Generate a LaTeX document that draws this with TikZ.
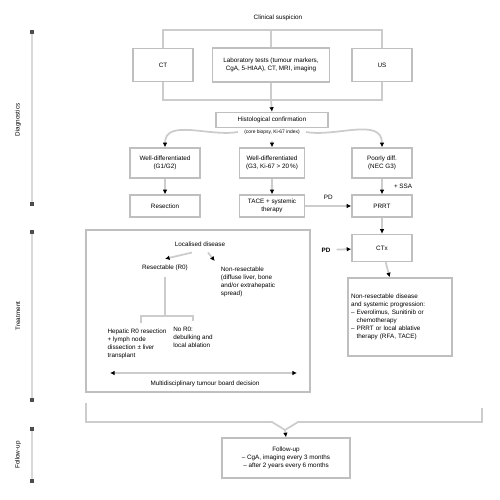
\documentclass[tikz,border=0pt]{standalone}
\usepackage{fontspec}
\setmainfont{Liberation Sans}
\usetikzlibrary{arrows.meta}

\tikzset{
  box/.style={draw=gray!50, line width=0.8pt, align=center, inner sep=1pt},
  link/.style={draw=gray!40, line width=1pt},
  arr/.style={link, -{Latex[black,length=2.6pt,width=2.6pt]}},
  phase/.style={draw=gray!30, line width=1.6pt, {Square[black!70,length=2pt,width=2.6pt]}-{Square[black!70,length=2pt,width=2.6pt]}},
}

\begin{document}
\begin{tikzpicture}[x=0.2mm,y=-0.2mm,font=\fontsize{3.6}{4.5}\selectfont]
      \useasboundingbox (0,0) rectangle (500,500);
      % phases on the left
      \draw [phase] (32,30) -- (32,206);
      \draw [phase] (32,230) -- (32,402);
      \draw [phase] (32,427) -- (32,483);
      \node [rotate=90] (P1) at (18,120) {Diagnostics};
      \node [rotate=90] (P2) at (18,316) {Treatment};
      \node [rotate=90] (P3) at (18,455) {Follow-up};
      % diagnostics
      \node (T) at (278,18) {Clinical suspicion};
      \node [box, minimum width=12mm, minimum height=6.6mm] (A) at (163,65) {CT};
      \node [box, minimum width=23.4mm, minimum height=6.8mm] (B) at (271,65) {Laboratory tests (tumour markers,\\CgA, 5-HIAA), CT, MRI, imaging};
      \node [box, minimum width=12mm, minimum height=6.6mm] (C) at (382,65) {US};
      \draw [link] (A.north) -- (A.north |- 0,30) -| (C.north);
      \draw [link] (B.north) -- (B.north |- 0,30);
      \draw [link, line width=1.6pt] (A.south) -- (A.south |- 0,100) -| (C.south);
      \draw [link] (B.south) -- (B.south |- 0,100) coordinate (M);
      \node [box, minimum width=22.4mm, minimum height=3mm] (H) at (272,120) {Histological confirmation};
      \node [font=\fontsize{2.8}{3.2}\selectfont] (Hs) at (272,132) {(core biopsy, Ki-67 index)};
      \draw [arr] (M) -- (H.north);
      % grading
      \node [box, minimum width=14mm, minimum height=6mm] (A2) at (165,163) {Well-differentiated\\(G1/G2)};
      \node [box, minimum width=13mm, minimum height=6mm] (B2) at (272,163) {Well-differentiated\\(G3, Ki-67 > 20\,\%)};
      \node [box, minimum width=12mm, minimum height=6mm] (C2) at (382,163) {Poorly diff.\\(NEC G3)};
      \draw [arr] (Hs.west) to [out=190,in=90] (A2.north);
      \draw [arr] (Hs.south) -- (B2.north);
      \draw [arr] (Hs.east) to [out=-10,in=90] (C2.north);
      \node [box, minimum width=14mm, minimum height=4.4mm] (A3) at (165,206) {Resection};
      \node [box, minimum width=13mm, minimum height=4.4mm] (B3) at (272,206) {TACE + systemic\\therapy};
      \node [box, minimum width=12mm, minimum height=4.4mm] (C3) at (382,206) {PRRT};
      \draw [arr] (A2) to (A3);
      \draw [arr] (B2) to (B3);
      \draw [arr] (C2) to node [right, xshift=3pt] {+ SSA} (C3);
      \draw [arr] (B3) to node [above] {PD} (C3);
      % treatment, right branch
      \node [box, minimum width=12mm, minimum height=5.4mm] (D) at (382,248) {CTx};
      \node (PD) at (326,250) {\textbf{PD}};
      \draw [arr] (C3) to (D);
      \draw [arr] (PD) to (D);
      \node [box, minimum width=20.8mm, minimum height=15.6mm, text width=19.6mm, align=left] (E) at (400,317) {Non-resectable disease\\and systemic progression:\\-- Everolimus, Sunitinib or\\\phantom{-- }chemotherapy\\-- PRRT or local ablative\\\phantom{-- }therapy (RFA, TACE)};
      \draw [arr] (D) to (E);
      % treatment, left block
      \node [box, minimum width=44.8mm, minimum height=32.4mm] (F) at (198,311) {};
      \node (G) at (200,244) {Localised disease};
      \node (G1) at (165,268) {Resectable (R0)};
      \node [align=left] (G2) at (248,282) {Non-resectable\\(diffuse liver, bone\\and/or extrahepatic\\spread)};
      \draw [arr] (G.south) ++(-8,0) to (G1.north);
      \draw [arr] (G.south) ++(8,0) to (G2.north west);
      \node [align=left] (K1) at (137,344) {Hepatic R0 resection\\+ lymph node\\dissection ± liver\\transplant};
      \node [align=left] (K2) at (193,337) {No R0:\\debulking and\\local ablation};
      \draw [link] (G1.south) -- (G1.south |- 0,316) coordinate (J);
      \draw [link] (K1.north) ++(4,0) |- (J) -| (K2.north);
      \draw [link, {Latex[black,length=2.6pt,width=2.6pt]}-{Latex[black,length=2.6pt,width=2.6pt]}] (110,373) coordinate (W1) -- (297,373) coordinate (W2);
      \node (X) at (205,384) {Multidisciplinary tumour board decision};
      % follow-up
      \node [box, minimum width=25.6mm, minimum height=8mm] (Z) at (286,458) {Follow-up\\-- CgA, imaging every 3 months\\-- after 2 years every 6 months};
      \draw [link] (86,403) -- (86,422) -- (272,422) -- (285,430) -- (298,422) -- (482,422) -- (482,408);
      \draw [arr] (285,430) -- (Z.north);
\end{tikzpicture}
\end{document}
